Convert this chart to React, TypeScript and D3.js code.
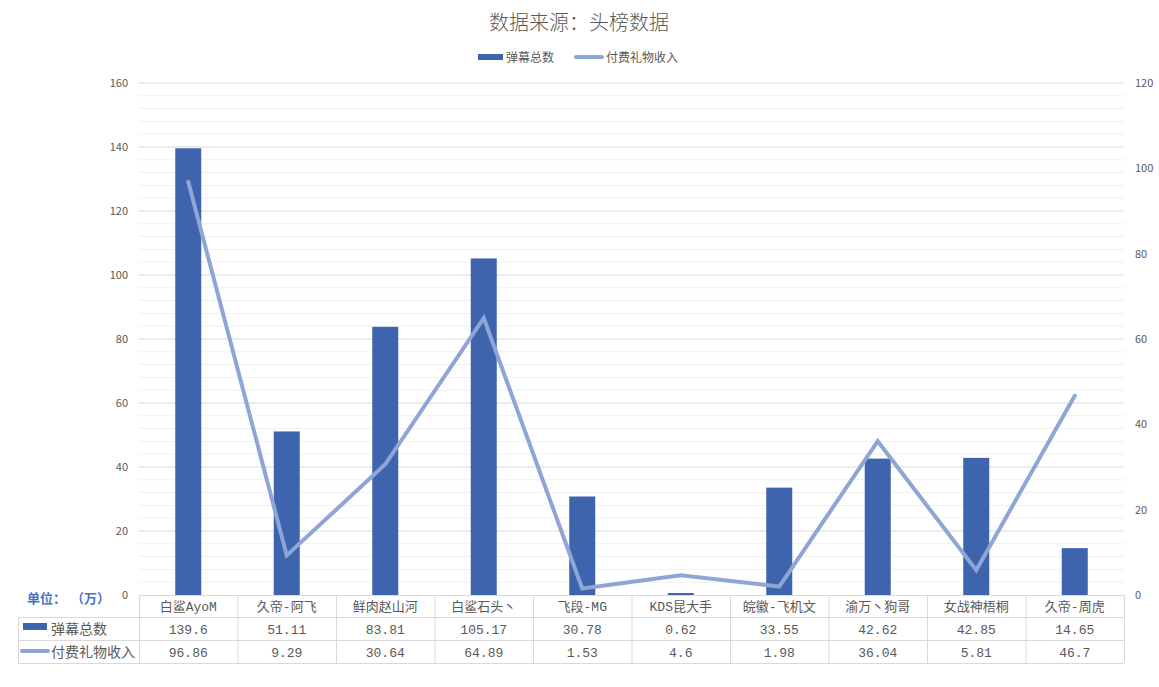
import * as d3 from 'd3';

// ─── Data ───────────────────────────────────────────────────

const categories = [
  '白鲨AyoM', '久帝-阿飞', '鲜肉赵山河', '白鲨石头丶', '飞段-MG',
  'KDS昆大手', '皖徽-飞机文', '渝万丶狗哥', '女战神梧桐', '久帝-周虎',
];
const danmu = [139.6, 51.11, 83.81, 105.17, 30.78, 0.62, 33.55, 42.62, 42.85, 14.65];
const gifts = [96.86, 9.29, 30.64, 64.89, 1.53, 4.6, 1.98, 36.04, 5.81, 46.7];
const danmuLabels = ['139.6', '51.11', '83.81', '105.17', '30.78', '0.62', '33.55', '42.62', '42.85', '14.65'];
const giftLabels = ['96.86', '9.29', '30.64', '64.89', '1.53', '4.6', '1.98', '36.04', '5.81', '46.7'];
const leftTicks = [0, 20, 40, 60, 80, 100, 120, 140, 160];
const rightTicks = [0, 20, 40, 60, 80, 100, 120];

const SERIES_NAMES = ['弹幕总数', '付费礼物收入'];
const TITLE = '数据来源：头榜数据';
const UNIT_PARTS = ['单位：', '（万）'];

// ─── Layout ─────────────────────────────────────────────────

const W = 1159;
const H = 687;
const PLOT = { left: 139, right: 1124, top: 83, bottom: 595 };
const ROW = [595, 617, 640, 663];
const TABLE_LEFT = 18;

const BAR_COLOR = '#3d64ad';
const LINE_COLOR = '#8fa5d6';
const TEXT = '#595959';
const MONO = '"Liberation Mono", "Noto Sans CJK SC", monospace';
const SANS = '"Noto Sans CJK SC", "Noto Sans", sans-serif';

export default function App() {
  const x = d3.scaleBand<string>().domain(categories).range([PLOT.left, PLOT.right]).padding(0);
  const yL = d3.scaleLinear().domain([0, 160]).range([PLOT.bottom, PLOT.top]);
  const yR = d3.scaleLinear().domain([0, 120]).range([PLOT.bottom, PLOT.top]);
  const barW = x.bandwidth() * 0.264;
  const cx = (c: string) => (x(c) ?? 0) + x.bandwidth() / 2;

  const minor = d3.range(0, 161, 4).filter((v) => v % 20 !== 0);

  const line = d3.line<number>()
    .x((_, i) => cx(categories[i]))
    .y((d) => yR(d));

  const colEdges = categories.map((c) => x(c) ?? 0).concat([PLOT.right]);

  return (
    <svg width={W} height={H} style={{ position: 'absolute', left: 0, top: 0, background: '#fff' }}>
      {/* Title */}
      <text x={579} y={30} textAnchor="middle" fontFamily={SANS} fontSize={20} fontWeight={300} fill={TEXT}>{TITLE}</text>

      {/* Legend */}
      <g fontFamily={SANS} fontSize={12} fill={TEXT}>
        <rect x={478} y={54} width={25} height={6} fill={BAR_COLOR} />
        <text x={506} y={62}>{SERIES_NAMES[0]}</text>
        <line x1={576} x2={602} y1={57} y2={57} stroke={LINE_COLOR} strokeWidth={4} strokeLinecap="round" />
        <text x={606} y={62}>{SERIES_NAMES[1]}</text>
      </g>

      {/* Gridlines */}
      {minor.map((v) => (
        <line key={'m' + v} x1={PLOT.left} x2={PLOT.right} y1={yL(v)} y2={yL(v)} stroke="#f0f0f0" strokeWidth={1} />
      ))}
      {leftTicks.filter((v) => v > 0).map((v) => (
        <line key={'g' + v} x1={PLOT.left} x2={PLOT.right} y1={yL(v)} y2={yL(v)} stroke="#d9d9d9" strokeWidth={1} />
      ))}

      {/* Left axis labels */}
      <g fontFamily={SANS} fontSize={11} fill={TEXT} textAnchor="end">
        {leftTicks.map((v) => (
          <text key={v} x={128} y={yL(v) + 4}>{v}</text>
        ))}
      </g>
      {/* Right axis labels */}
      <g fontFamily={SANS} fontSize={11} fill={TEXT} textAnchor="start">
        {rightTicks.map((v) => (
          <text key={v} x={1135} y={yR(v) + 4}>{v}</text>
        ))}
      </g>

      {/* Bars */}
      {danmu.map((v, i) => (
        <rect key={i} x={cx(categories[i]) - barW / 2} y={yL(v)} width={barW}
          height={PLOT.bottom - yL(v)} fill={BAR_COLOR} />
      ))}

      {/* Line */}
      <path d={line(gifts) ?? ''} fill="none" stroke={LINE_COLOR} strokeWidth={4}
        strokeLinejoin="miter" strokeLinecap="round" />

      {/* Unit label */}
      <g fontFamily={SANS} fontSize={13} fontWeight="bold" fill="#4472c4">
        <text x={27} y={603}>{UNIT_PARTS[0]}</text>
        <text x={71} y={603}>{UNIT_PARTS[1]}</text>
      </g>

      {/* Data table */}
      <g stroke="#d9d9d9" strokeWidth={1} fill="none">
        <line x1={PLOT.left} x2={PLOT.right} y1={ROW[0] + 0.5} y2={ROW[0] + 0.5} />
        {ROW.slice(1).map((r) => (
          <line key={r} x1={TABLE_LEFT} x2={PLOT.right} y1={r + 0.5} y2={r + 0.5} />
        ))}
        <line x1={TABLE_LEFT + 0.5} x2={TABLE_LEFT + 0.5} y1={ROW[1]} y2={ROW[3]} />
        {colEdges.map((e, i) => (
          <line key={i} x1={e + 0.5} x2={e + 0.5} y1={ROW[0]} y2={ROW[3]} />
        ))}
      </g>

      <g fontFamily={MONO} fontSize={13} fill={TEXT} textAnchor="middle">
        {categories.map((c) => (
          <text key={c} x={cx(c)} y={(ROW[0] + ROW[1]) / 2 + 5}>{c}</text>
        ))}
        {danmuLabels.map((t, i) => (
          <text key={'d' + i} x={cx(categories[i])} y={(ROW[1] + ROW[2]) / 2 + 5}>{t}</text>
        ))}
        {giftLabels.map((t, i) => (
          <text key={'g' + i} x={cx(categories[i])} y={(ROW[2] + ROW[3]) / 2 + 5}>{t}</text>
        ))}
      </g>

      {/* Table legend keys */}
      <rect x={23} y={623} width={24} height={7} fill={BAR_COLOR} />
      <line x1={22} x2={48} y1={651} y2={651} stroke={LINE_COLOR} strokeWidth={4} strokeLinecap="round" />
      <g fontFamily={SANS} fontSize={14} fill={TEXT}>
        <text x={51} y={634}>{SERIES_NAMES[0]}</text>
        <text x={51} y={657}>{SERIES_NAMES[1]}</text>
      </g>
    </svg>
  );
}
